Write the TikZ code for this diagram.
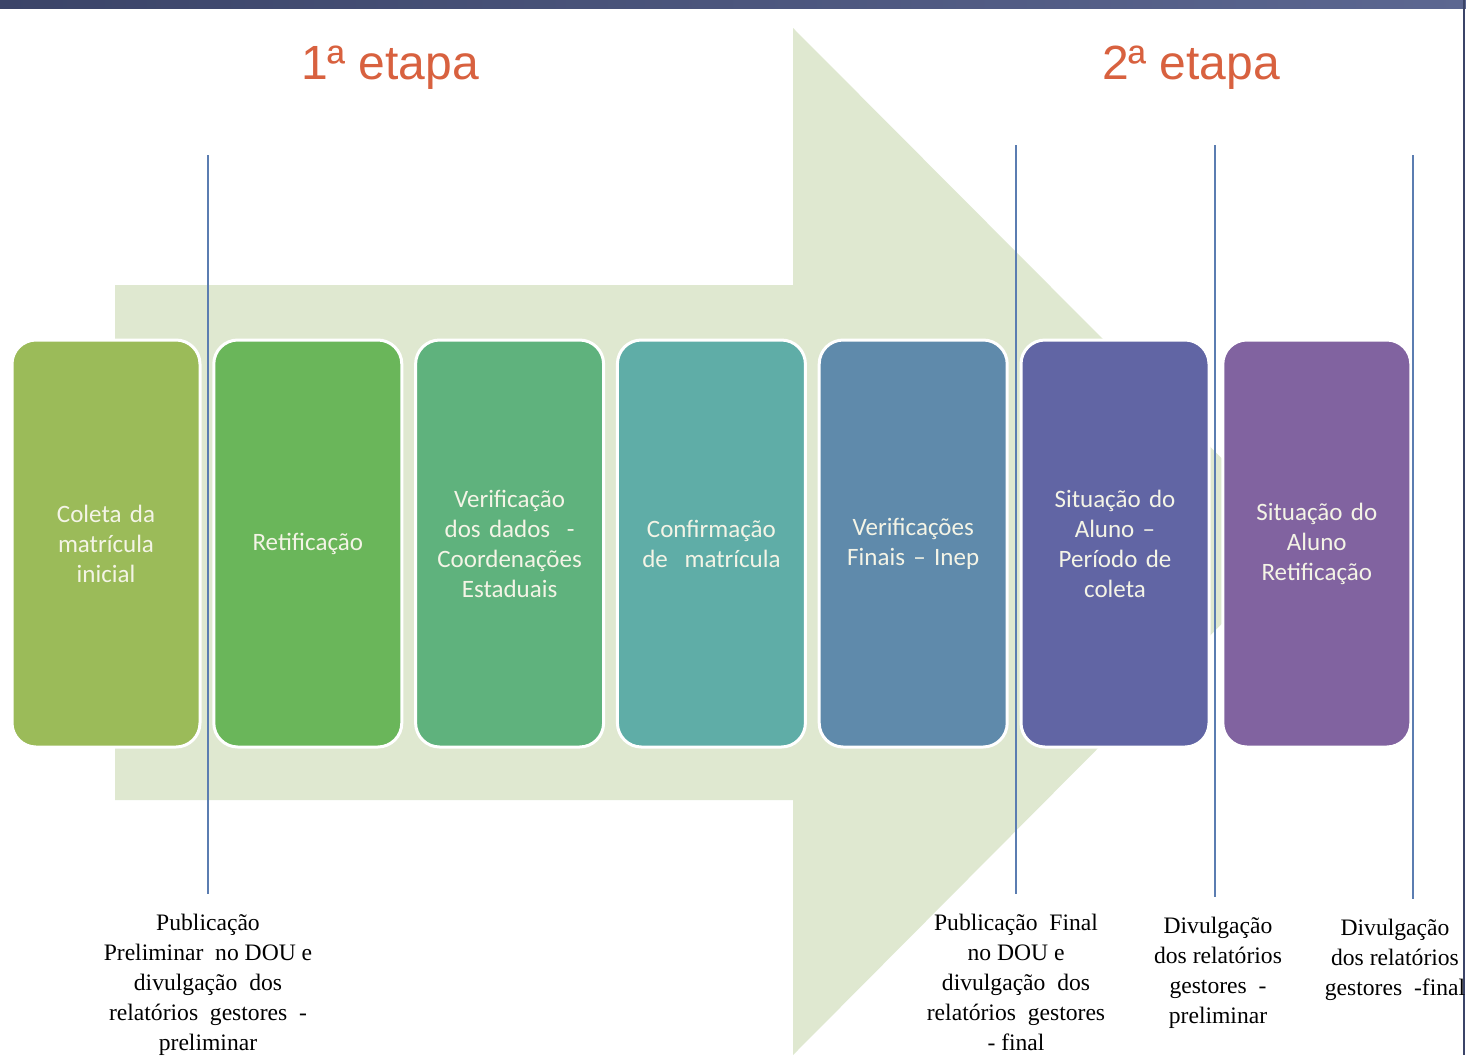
\documentclass[tikz,border=0pt]{standalone}
\usepackage{fontspec}
\setmainfont{Liberation Serif}
\newfontfamily\stagefont{Carlito}
\newfontfamily\etapafont{Liberation Sans}
\usetikzlibrary{positioning}

\definecolor{arrowgreen}{HTML}{DFE8D0}
\definecolor{barleft}{HTML}{3B4468}
\definecolor{barright}{HTML}{5C6791}
\definecolor{etapared}{HTML}{D8613F}
\definecolor{markerblue}{HTML}{5B7DB1}
\definecolor{stagetext}{HTML}{F4F4E6}
\definecolor{coleta}{HTML}{9BBB59}
\definecolor{retif}{HTML}{6AB65A}
\definecolor{verif}{HTML}{5FB27D}
\definecolor{confirm}{HTML}{5FADA7}
\definecolor{finais}{HTML}{5F8AAB}
\definecolor{situacao}{HTML}{6165A4}
\definecolor{sitretif}{HTML}{8163A0}

\tikzset{
  stage/.style={rounded corners=12pt, draw=white, line width=1.5pt,
    minimum width=94pt, minimum height=203.5pt, text width=86pt,
    align=center, text=stagetext,
    font=\stagefont\fontsize{12.5}{15}\selectfont},
  milestone/.style={align=center, anchor=north, inner xsep=0pt, inner ysep=10pt,
    font=\fontsize{11.8}{15}\selectfont},
  marker/.style={draw=markerblue, line width=0.75pt},
  etapa/.style={text=etapared, font=\etapafont\fontsize{24}{28}\selectfont}
}

\begin{document}
\begin{tikzpicture}[x=0.5pt, y=-0.5pt]
  \useasboundingbox (0,0) rectangle (1466,1055);
  \fill[white] (0,0) rectangle (1466,1055);
  \shade[left color=barleft, right color=barright] (0,0) rectangle (1466,8);
  \draw[barleft, line width=1pt] (1464,0) -- (1464,1055);

  \fill[arrowgreen] (115,285) -- (793,285) -- (793,28) -- (1304,541)
    -- (793,1055) -- (793,800) -- (115,800) -- cycle;

  \node[etapa] (etapa1) at (390,68) {1ª etapa};
  \node[etapa] (etapa2) at (1191,68) {2ª etapa};

  \node[stage, fill=coleta] (coleta) at (106,543.5) {Coleta da\\matrícula\\inicial};
  \node[stage, fill=retif, right=5.4pt of coleta] (retif) {Retificação};
  \node[stage, fill=verif, right=5.4pt of retif] (verif) {Verificação\\dos dados~~-\\Coordenações\\Estaduais};
  \node[stage, fill=confirm, right=5.4pt of verif] (confirm) {Confirmação\\de~~matrícula};
  \node[stage, fill=finais, right=5.4pt of confirm] (finais) {Verificações\\Finais – Inep};
  \node[stage, fill=situacao, right=5.4pt of finais] (situacao) {Situação do\\Aluno –\\Período de\\coleta};
  \node[stage, fill=sitretif, right=5.4pt of situacao] (sitretif) {Situação do\\Aluno\\Retificação};

  \coordinate (top1) at (208,155);
  \coordinate (top2) at (1016,145);
  \coordinate (top3) at (1215,145);
  \coordinate (top4) at (1413,155);

  \node[milestone] (pubpre) at (208,894) {Publicação\\Preliminar~~no DOU e\\divulgação~~dos\\relatórios~~gestores~~-\\preliminar};
  \node[milestone] (pubfin) at (1016,894) {Publicação~~Final\\no DOU e\\divulgação~~dos\\relatórios~~gestores\\- final};
  \node[milestone] (divpre) at (1218,897) {Divulgação\\dos relatórios\\gestores~~-\\preliminar};
  \node[milestone] (divfin) at (1395,899) {Divulgação\\dos relatórios\\gestores~~-final};

  \draw[marker] (top1) -- (pubpre.north);
  \draw[marker] (top2) -- (pubfin.north);
  \draw[marker] (top3) -- (top3 |- divpre.north);
  \draw[marker] (top4) -- (top4 |- divfin.north);
\end{tikzpicture}
\end{document}
